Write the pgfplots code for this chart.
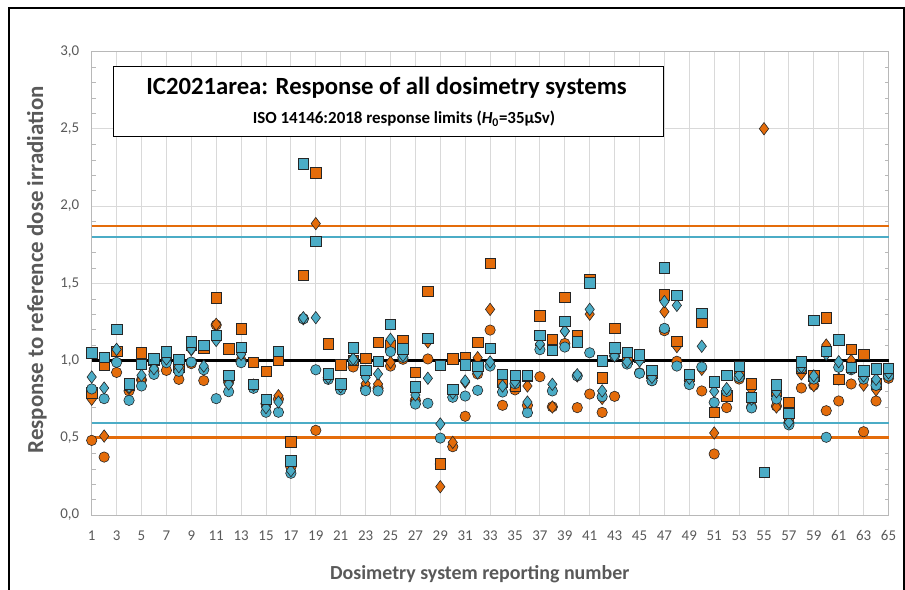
\documentclass[border=0pt]{standalone}
\usepackage{fontspec}
\setmainfont{Carlito}
\usepackage{pgfplots}
\pgfplotsset{compat=1.18}
\usepackage{pgfplotstable}
\definecolor{cor}{HTML}{E46C0A}
\definecolor{cbl}{HTML}{4BACC6}
\definecolor{txt}{HTML}{595959}
\definecolor{grd}{HTML}{D9D9D9}
\definecolor{edge}{HTML}{262626}

\pgfplotstableread{
n oc od os bc bd bs
1 0.483 0.749 0.79 0.816 0.893 1.049
2 0.375 0.511 0.973 0.753 0.822 1.02
3 0.923 1.07 1.06 0.988 1.072 1.20
4 0.803 0.82 0.84 0.742 0.83 0.85
5 0.874 0.874 1.051 0.835 0.904 0.977
6 0.93 0.95 1.0 0.91 0.947 1.01
7 0.936 1.0 1.04 0.986 1.01 1.057
8 0.878 0.947 0.96 0.93 0.96 1.008
9 0.98 1.07 1.10 0.99 1.074 1.12
10 0.87 0.95 1.08 0.94 0.964 1.10
11 1.23 1.234 1.407 0.753 1.13 1.165
12 0.86 0.87 1.077 0.798 0.848 0.903
13 1.0 1.04 1.206 0.986 1.04 1.087
14 0.83 0.84 0.988 0.82 0.84 0.846
15 0.72 0.70 0.93 0.665 0.695 0.749
16 0.75 0.772 1.001 0.665 0.731 1.059
17 0.31 0.33 0.475 0.27 0.287 0.35
18 1.27 1.27 1.551 1.27 1.277 2.272
19 0.548 1.886 2.216 0.94 1.277 1.773
20 0.89 0.90 1.107 0.878 0.89 0.913
21 0.83 0.84 0.971 0.81 0.83 0.85
22 0.958 1.01 1.0 1.0 1.01 1.081
23 0.82 0.85 1.016 0.805 0.891 0.938
24 0.82 0.848 1.118 0.803 0.913 0.995
25 0.964 0.988 1.10 1.057 1.137 1.236
26 1.008 1.03 1.128 1.02 1.033 1.077
27 0.74 0.755 0.923 0.718 0.777 0.831
28 1.01 1.12 1.446 0.723 0.885 1.143
29 0.33 0.183 0.332 0.498 0.589 0.967
30 0.442 0.47 1.01 0.762 0.79 0.813
31 0.639 0.86 1.02 0.770 0.867 0.971
32 0.913 1.018 1.118 0.807 0.92 0.964
33 1.197 1.331 1.629 0.964 0.99 1.079
34 0.71 0.85 0.86 0.796 0.835 0.91
35 0.81 0.835 0.835 0.85 0.863 0.904
36 0.71 0.835 0.90 0.662 0.731 0.904
37 0.895 1.10 1.29 1.07 1.107 1.165
38 0.70 0.699 1.137 0.803 0.846 1.066
39 1.11 1.19 1.409 1.087 1.19 1.253
40 0.695 0.90 1.165 0.90 0.908 1.122
41 0.783 1.30 1.525 1.05 1.331 1.504
42 0.664 0.755 0.889 0.766 0.803 0.999
43 0.768 1.03 1.208 1.03 1.03 1.083
44 1.0 1.01 1.01 0.977 0.992 1.053
45 0.92 1.0 1.02 0.917 0.997 1.036
46 0.87 0.89 0.92 0.869 0.891 0.938
47 1.193 1.316 1.426 1.208 1.381 1.60
48 0.995 1.09 1.124 0.964 1.357 1.422
49 0.87 0.885 0.90 0.844 0.885 0.91
50 0.803 0.943 1.251 0.958 1.092 1.305
51 0.395 0.531 0.665 0.729 0.80 0.863
52 0.695 0.80 0.772 0.80 0.818 0.906
53 0.88 0.90 0.92 0.891 0.906 0.962
54 0.70 0.813 0.85 0.693 0.75 0.762
55 nan 2.50 nan nan nan 0.278
56 0.705 0.699 0.80 0.751 0.798 0.844
57 0.60 0.62 0.731 0.583 0.60 0.66
58 0.822 0.913 0.95 0.95 0.96 0.992
59 0.84 0.837 0.90 0.88 0.90 1.262
60 0.675 1.10 1.277 0.503 1.04 1.059
61 0.738 0.88 0.878 0.956 0.992 1.135
62 0.848 1.0 1.074 0.94 0.95 0.956
63 0.539 0.841 1.042 0.88 0.90 0.934
64 0.738 0.81 0.85 0.839 0.878 0.947
65 0.885 0.90 0.93 0.90 0.92 0.949
}\data

\begin{document}
\begin{tikzpicture}
\useasboundingbox (0,0) rectangle (905bp,590bp);
\begin{axis}[
  at={(91.7bp,75bp)}, anchor=south west,
  scale only axis, width=796.8bp, height=463.5bp,
  xmin=1, xmax=65, ymin=0, ymax=3,
  xtick={1,3,...,65}, ytick={0,0.5,...,3},
  minor y tick num=4,
  grid=major, major grid style={draw=grd, line width=0.9bp},
  axis line style={draw=grd!85!black, line width=0.9bp},
  major tick length=0pt, minor tick length=4bp,
  minor tick style={draw=grd!85!black},
  tick align=inside,
  /pgf/number format/assume math mode=true,
  ticklabel style={font=\fontsize{15}{15}\selectfont, text=txt},
  xticklabel style={yshift=-12bp},
  yticklabel style={xshift=-9bp, /pgf/number format/.cd, fixed, fixed zerofill, precision=1, use comma},
  xlabel={\textbf{Dosimetry system reporting number}},
  ylabel={\textbf{Response to reference dose irradiation}},
  xlabel style={font=\fontsize{20}{20}\selectfont, text=txt, at={(axis description cs:0.487,-0.127)}, anchor=center},
  ylabel style={font=\fontsize{23}{23}\selectfont, text=txt, at={(axis description cs:-0.0687,0.529)}, anchor=center},
  clip=false,
]
\addplot[cor, line width=2.6bp] coordinates {(1,0.5) (65,0.5)};
\addplot[cor, line width=2.6bp] coordinates {(1,1.87) (65,1.87)};
\addplot[cbl, line width=2.6bp] coordinates {(1,0.595) (65,0.595)};
\addplot[cbl, line width=2.6bp] coordinates {(1,1.80) (65,1.80)};
\addplot[black, line width=2.6bp] coordinates {(1,1) (65,1)};
\addplot[only marks, mark=*, mark size=5.2bp, mark options={fill=cor, draw=edge, line width=0.6bp}] table[x=n, y=oc] {\data};
\addplot[only marks, mark=diamond*, mark size=6.2bp, mark options={fill=cor, draw=edge, line width=0.6bp}] table[x=n, y=od] {\data};
\addplot[only marks, mark=square*, mark size=5.2bp, mark options={fill=cor, draw=edge, line width=0.6bp}] table[x=n, y=os] {\data};
\addplot[only marks, mark=*, mark size=5.2bp, mark options={fill=cbl, draw=edge, line width=0.6bp}] table[x=n, y=bc] {\data};
\addplot[only marks, mark=diamond*, mark size=6.2bp, mark options={fill=cbl, draw=edge, line width=0.6bp}] table[x=n, y=bd] {\data};
\addplot[only marks, mark=square*, mark size=5.2bp, mark options={fill=cbl, draw=edge, line width=0.6bp}] table[x=n, y=bs] {\data};
\end{axis}
\draw[black, line width=1bp, fill=white] (113bp,453bp) rectangle (663bp,523bp);
\node[font=\fontsize{24.8}{25}\selectfont\bfseries, anchor=base, inner sep=0pt] at (386.5bp,495bp) {IC2021area: Response of all dosimetry systems};
\node[font=\fontsize{17}{17}\selectfont\bfseries, anchor=base, inner sep=0pt] at (404bp,466bp) {ISO 14146:2018 response limits (\textit{H}\textsubscript{0}=35µSv)};
\draw[black, line width=1.5bp] (9bp,0) -- (9bp,582bp) -- (904bp,582bp) -- (904bp,0);
\end{tikzpicture}
\end{document}
